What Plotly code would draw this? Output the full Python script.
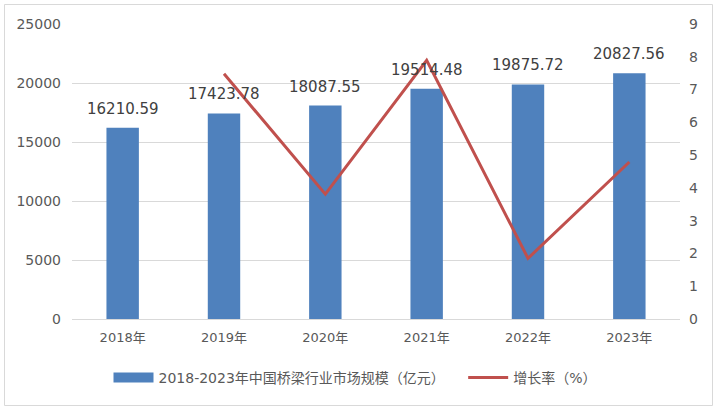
import plotly.graph_objects as go

years = ["2018年", "2019年", "2020年", "2021年", "2022年", "2023年"]
market_size = [16210.59, 17423.78, 18087.55, 19514.48, 19875.72, 20827.56]
growth_years = ["2019年", "2020年", "2021年", "2022年", "2023年"]
growth_rate = [7.48, 3.81, 7.89, 1.85, 4.79]

bar_name = "2018-2023年中国桥梁行业市场规模（亿元）"
line_name = "增长率（%）"

FONT = "DejaVu Sans, Noto Sans CJK SC"
TXT = "#595959"
BAR_C = "#4F81BD"
LINE_C = "#C0504D"

fig = go.Figure()
fig.add_trace(go.Bar(
    x=years, y=market_size, name=bar_name,
    marker=dict(color=BAR_C, line=dict(width=0)),
    width=0.32, showlegend=False,
))
# legend-only entry giving the wide rectangular swatch for the bars
fig.add_trace(go.Scatter(
    x=[None], y=[None], name=bar_name + "\u00a0\u00a0\u00a0", mode="lines",
    line=dict(color=BAR_C, width=10),
))
fig.add_trace(go.Scatter(
    x=growth_years, y=growth_rate, name=line_name, yaxis="y2",
    mode="lines", line=dict(color=LINE_C, width=3),
))

for yr, v in zip(years, market_size):
    fig.add_annotation(x=yr, y=v, text=f"{v:.2f}", showarrow=False,
                       yanchor="bottom", yshift=8,
                       font=dict(size=15, color="#404040", family=FONT))

W, H = 718, 410
ml, mr, mt, mb = 72, 38, 24, 91
pw, ph = W - ml - mr, H - mt - mb

def px_x(x):
    return (x - ml) / pw

def px_y(y):
    return (H - mb - y) / ph

fig.update_layout(
    width=W, height=H,
    margin=dict(l=ml, r=mr, t=mt, b=mb, autoexpand=False),
    paper_bgcolor="white", plot_bgcolor="white",
    font=dict(family=FONT, size=13, color=TXT),
    xaxis=dict(showgrid=False, showline=True, linecolor="#D9D9D9", linewidth=1,
               ticks="", tickfont=dict(size=13, color=TXT), ticklabelstandoff=6),
    yaxis=dict(range=[0, 25000], dtick=5000, showgrid=True, gridcolor="#D9D9D9",
               gridwidth=1, zeroline=False, ticks="", tickformat="d",
               tickfont=dict(size=14, color=TXT), ticklabelstandoff=10),
    yaxis2=dict(range=[0, 9], dtick=1, overlaying="y", side="right", showgrid=False,
                zeroline=False, ticks="", tickfont=dict(size=14, color=TXT),
                ticklabelstandoff=8),
    legend=dict(orientation="h", x=px_x(355), xanchor="center", y=px_y(378), yanchor="middle",
                font=dict(size=14, color=TXT), bgcolor="rgba(0,0,0,0)",
                traceorder="normal", itemwidth=40),
    showlegend=True,
    shapes=[dict(type="rect", xref="paper", yref="paper",
                 x0=px_x(4.5), x1=px_x(712.5), y0=px_y(405.5), y1=px_y(4.5),
                 line=dict(color="#D9D9D9", width=1), layer="below")],
)

fig.write_html("out.html", config={"displayModeBar": False},
               post_script="document.body.style.margin='0';document.body.style.padding='0';")
